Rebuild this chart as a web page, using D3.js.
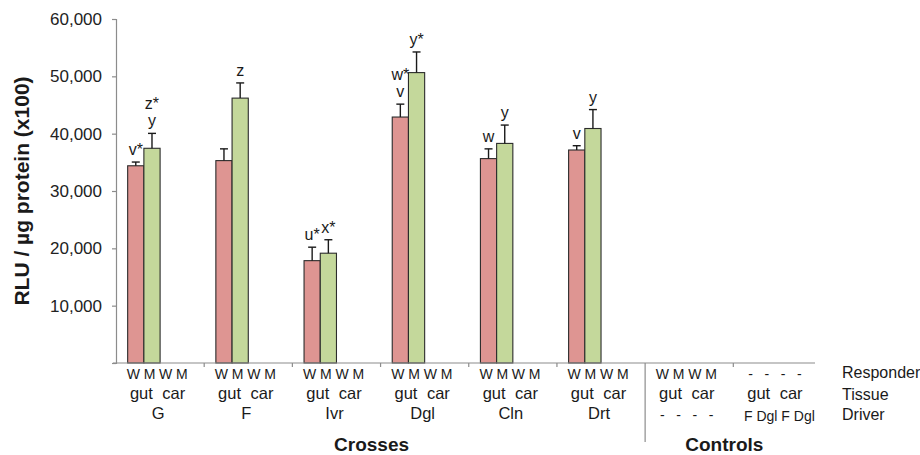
<!DOCTYPE html>
<html>
<head>
<meta charset="utf-8">
<script src="https://cdn.jsdelivr.net/npm/d3@7"></script>
<style>
  body { margin: 0; background: #fff; }
  svg text { font-family: "Liberation Sans", Arial, sans-serif; fill: #1a1a1a; }
</style>
</head>
<body>
<div id="chart"></div>
<script>
// groups along the x axis: 6 crosses, then 2 control groups
const groups = ["G", "F", "Ivr", "Dgl", "Cln", "Drt", "ctrl1", "ctrl2"];
const crossGroups = ["G", "F", "Ivr", "Dgl", "Cln", "Drt"];

// gut values for the crosses, W (red) and M (green); car and controls are zero
const wValues = [34400, 35300, 17850, 42900, 35650, 37150];
const wErrors = [650, 2050, 2350, 2250, 1700, 750];
const mValues = [37450, 46200, 19150, 50650, 38300, 40900];
const mErrors = [2600, 2650, 2350, 3600, 3200, 3300];

// significance letters, bottom line first
const wLetters = [["v*"], [], ["u*"], ["v", "w*"], ["w"], ["v"]];
const mLetters = [["y", "z*"], ["z"], ["x*"], ["y*"], ["y"], ["y"]];

// three rows of category labels
const responderRow = [
  ["W", "M", "W", "M"], ["W", "M", "W", "M"], ["W", "M", "W", "M"], ["W", "M", "W", "M"],
  ["W", "M", "W", "M"], ["W", "M", "W", "M"], ["W", "M", "W", "M"], ["-", "-", "-", "-"]
];
const tissueRow = ["gut", "car"];
// a plain string is one centered label, an array is one label per slot
const driverRow = ["G", "F", "Ivr", "Dgl", "Cln", "Drt", ["-", "-", "-", "-"], "F Dgl F Dgl"];
const rowNames = ["Responder", "Tissue", "Driver"];
const sectionNames = ["Crosses", "Controls"];

const yTicks = [0, 10000, 20000, 30000, 40000, 50000, 60000];
const yTitle = "RLU / \u00b5g protein (x100)";

const width = 920, height = 455;
const svg = d3.select("#chart").append("svg")
    .attr("width", width)
    .attr("height", height);

const x0 = d3.scaleBand().domain(groups).range([116, 821.5]);
const x1 = d3.scaleBand().domain([0, 1, 2, 3]).range([0, x0.bandwidth()])
    .paddingInner(0).paddingOuter(0.72);
const y = d3.scaleLinear().domain([0, 60000]).range([363, 19]);

const axisColor = "#8c8c8c";

// y axis
const yAxis = d3.axisLeft(y)
    .tickValues(yTicks)
    .tickSize(4)
    .tickPadding(10)
    .tickFormat(d => d === 0 ? "" : d3.format(",")(d));
const gy = svg.append("g").attr("transform", "translate(116,0)").call(yAxis);
gy.select(".domain").attr("stroke", axisColor).attr("stroke-width", 1.2);
gy.selectAll(".tick line").attr("stroke", axisColor).attr("stroke-width", 1.2);
gy.selectAll(".tick text").attr("font-size", 17).style("fill", "#222");

svg.append("text")
    .attr("transform", `translate(29,${(y(0) + y(60000)) / 2}) rotate(-90)`)
    .attr("text-anchor", "middle")
    .attr("font-size", 21)
    .attr("font-weight", "bold")
    .text(yTitle);

// bars
const bars = [];
crossGroups.forEach((g, i) => {
    bars.push({group: g, slot: 0, value: wValues[i], err: wErrors[i], letters: wLetters[i], fill: "#de9592"});
    bars.push({group: g, slot: 1, value: mValues[i], err: mErrors[i], letters: mLetters[i], fill: "#c4d89b"});
});

svg.append("g").selectAll("rect").data(bars).join("rect")
    .attr("x", d => x0(d.group) + x1(d.slot))
    .attr("y", d => y(d.value))
    .attr("width", x1.bandwidth())
    .attr("height", d => y(0) - y(d.value))
    .attr("fill", d => d.fill)
    .attr("stroke", "#2b2b2b")
    .attr("stroke-width", 1.1);

// error bars (upper only)
const cx = d => x0(d.group) + x1(d.slot) + x1.bandwidth() / 2;
const eg = svg.append("g").attr("stroke", "#1a1a1a").attr("stroke-width", 1.4);
eg.selectAll("line.stem").data(bars).join("line").attr("class", "stem")
    .attr("x1", cx).attr("x2", cx)
    .attr("y1", d => y(d.value)).attr("y2", d => y(d.value + d.err));
eg.selectAll("line.cap").data(bars).join("line").attr("class", "cap")
    .attr("x1", d => cx(d) - 4).attr("x2", d => cx(d) + 4)
    .attr("y1", d => y(d.value + d.err)).attr("y2", d => y(d.value + d.err));

// letters above the error bars
const letterData = [];
bars.forEach(b => b.letters.forEach((t, k) => letterData.push({bar: b, text: t, k: k})));
svg.append("g").selectAll("text").data(letterData).join("text")
    .attr("x", d => cx(d.bar))
    .attr("y", d => y(d.bar.value + d.bar.err) - 7 - d.k * 17)
    .attr("text-anchor", "middle")
    .attr("font-size", 16)
    .text(d => d.text);

// x axis line and group ticks
const y0 = y(0);
svg.append("line")
    .attr("x1", 113).attr("x2", 815).attr("y1", y0).attr("y2", y0)
    .attr("stroke", axisColor).attr("stroke-width", 1.2);
const bounds = groups.slice(1).map(g => x0(g));
svg.append("g").selectAll("line").data(bounds).join("line")
    .attr("x1", d => d).attr("x2", d => d)
    .attr("y1", y0).attr("y2", (d, i) => i === 5 ? 442 : y0 + 4)
    .attr("stroke", axisColor).attr("stroke-width", 1.2);

// category label rows
const labels = svg.append("g").attr("text-anchor", "middle");
const slotX = (g, s) => x0(g) + x1(s) + x1.bandwidth() / 2 - 2.5;
groups.forEach((g, gi) => {
    responderRow[gi].forEach((t, s) => {
        labels.append("text").attr("x", slotX(g, s)).attr("y", 379)
            .attr("font-size", 14).text(t);
    });
    tissueRow.forEach((t, k) => {
        labels.append("text").attr("x", (slotX(g, 2 * k) + slotX(g, 2 * k + 1)) / 2).attr("y", 399)
            .attr("font-size", 16.5).text(t);
    });
    const drv = driverRow[gi];
    if (Array.isArray(drv)) {
        drv.forEach((t, s) => {
            labels.append("text").attr("x", slotX(g, s)).attr("y", 420)
                .attr("font-size", 14).text(t);
        });
    } else if (drv.length > 3) {
        labels.append("text").attr("x", x0(g) + x0.bandwidth() / 2 + 2).attr("y", 421)
            .attr("font-size", 14).text(drv);
    } else {
        labels.append("text").attr("x", x0(g) + x0.bandwidth() / 2 - 2).attr("y", 419)
            .attr("font-size", 16.5).text(drv);
    }
});

// row names on the right
svg.append("g").selectAll("text").data(rowNames).join("text")
    .attr("x", 842)
    .attr("y", (d, i) => [378, 400, 420][i])
    .attr("font-size", 16)
    .text(d => d);

// section names
const sectionX = [(x0("G") + x0("ctrl1")) / 2, (x0("ctrl1") + 821.5) / 2];
svg.append("g").selectAll("text").data(sectionNames).join("text")
    .attr("x", (d, i) => sectionX[i] - 9)
    .attr("y", 451)
    .attr("text-anchor", "middle")
    .attr("font-size", 19)
    .attr("font-weight", "bold")
    .text(d => d);
</script>
</body>
</html>
